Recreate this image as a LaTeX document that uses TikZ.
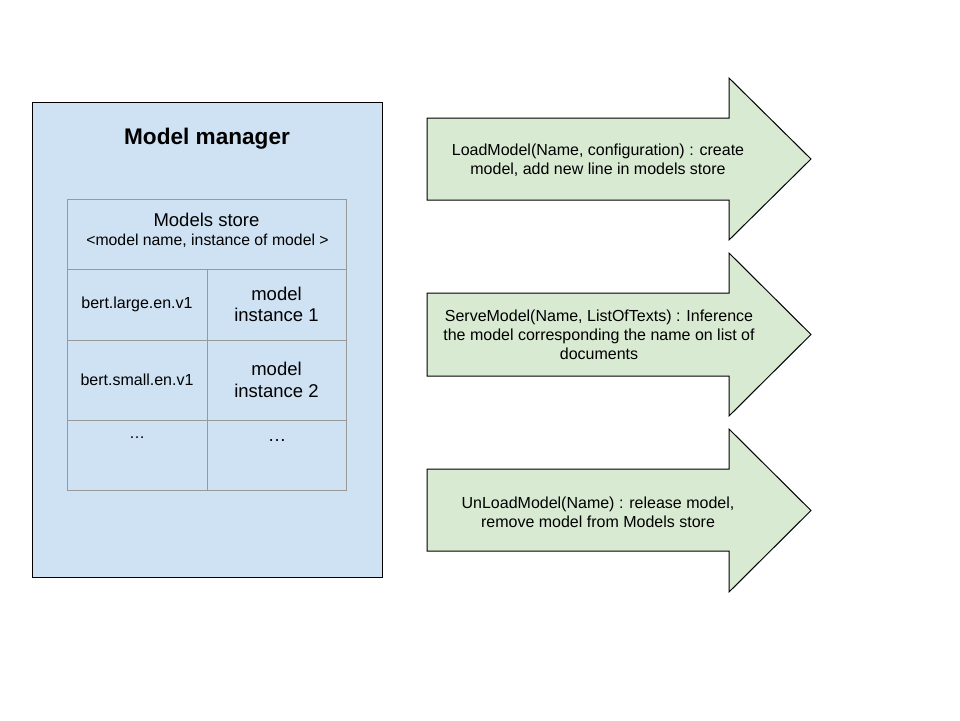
\documentclass[tikz,border=0pt]{standalone}
\usepackage{fontspec}
\setmainfont{Liberation Sans}
\usetikzlibrary{positioning}
\definecolor{managerblue}{HTML}{CFE2F3}
\definecolor{opgreen}{HTML}{D9EAD3}
\definecolor{cellgrey}{HTML}{999999}
\tikzstyle{manager} = [rectangle, draw=black, line width=1pt, fill=managerblue, minimum width=350, minimum height=475, inner sep=0pt]
\tikzstyle{cell} = [rectangle, draw=cellgrey, line width=1pt, align=center, inner sep=0pt]
\tikzstyle{op} = [draw=black, line width=1pt, fill=opgreen]
\tikzstyle{optext} = [align=center, inner sep=0pt, font=\fontsize{16}{19}\selectfont]
\tikzstyle{bigtext} = [font=\fontsize{18.5}{21.5}\selectfont]
\tikzstyle{smalltext} = [font=\fontsize{16}{19}\selectfont]

\begin{document}
\begin{tikzpicture}[x=1pt, y=-1pt]
\useasboundingbox (0,0) rectangle (960,720);

% model manager
\node (manager) [manager] at (207,339.5) {};
\node (title) at (207,139) {\fontsize{22.6}{26}\selectfont\bfseries Model manager};

% models store table
\node (store) [cell, minimum width=279, minimum height=70] at (206.5,234) {};
\node (storename) [bigtext] at (206.5,220) {Models store};
\node (storekey) [font=\fontsize{15.8}{18}\selectfont] at (207.5,241) {<model name, instance of model >};
\node (namea) [cell, smalltext, minimum width=140, minimum height=71] at (137,304.5) {bert.large.en.v1};
\node (insta) [cell, bigtext, minimum width=139, minimum height=71] at (276.5,304.5) {model\\instance 1};
\node (nameb) [cell, smalltext, minimum width=140, minimum height=80] at (137,380) {bert.small.en.v1};
\node (instb) [cell, bigtext, minimum width=139, minimum height=80] at (276.5,380) {model\\instance 2};
\node (namec) [cell, minimum width=140, minimum height=70] at (137,455) {};
\node (instc) [cell, minimum width=139, minimum height=70] at (276.5,455) {};
\node (dotsa) [smalltext] at (137,438) {…};
\node (dotsb) [bigtext] at (277,441) {…};

% operations
\draw [op] (427,118) -- (729,118) -- (729,78) -- (811,159) -- (729,240) -- (729,200) -- (427,200) -- cycle;
\node (load) [optext] at (598,160) {LoadModel(Name, configuration) : create\\model, add new line in models store};

\draw [op] (427,293) -- (729,293) -- (729,253) -- (811,334.5) -- (729,416) -- (729,376) -- (427,376) -- cycle;
\node (serve) [optext] at (599,335) {ServeModel(Name, ListOfTexts) : Inference\\the model corresponding the name on list of\\documents};

\draw [op] (427,469) -- (729,469) -- (729,429) -- (811,510.5) -- (729,592) -- (729,551) -- (427,551) -- cycle;
\node (unload) [optext] at (598,512) {UnLoadModel(Name) : release model,\\remove model from Models store};

\end{tikzpicture}
\end{document}
